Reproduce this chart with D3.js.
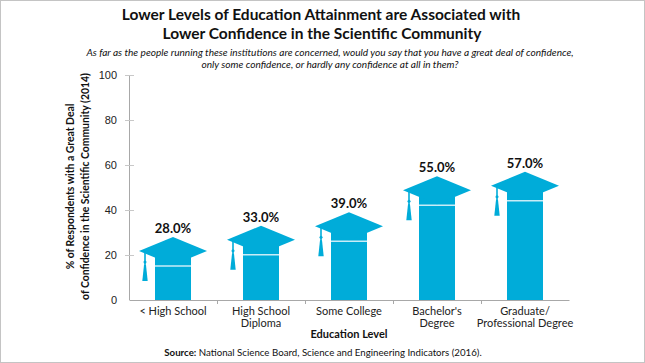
<!DOCTYPE html>
<html>
<head>
<meta charset="utf-8">
<script src="https://cdn.jsdelivr.net/npm/d3@7"></script>
<style>
  body { margin: 0; background: #fff; }
  svg { display: block; font-family: "Lato", "Roboto", sans-serif; }
  .tick text { fill: #222; font-size: 11px; }
</style>
</head>
<body>
<svg id="chart" width="645" height="363"></svg>
<script>
const categories = ["< High School", "High School Diploma", "Some College", "Bachelor's Degree", "Graduate/ Professional Degree"];
const categoryLines = [["< High School"], ["High School", "Diploma"], ["Some College"], ["Bachelor's", "Degree"], ["Graduate/", "Professional Degree"]];
const values = [28, 33, 39, 55, 57];
const yTicks = [0, 20, 40, 60, 80, 100];

const W = 645, H = 363;
const M = { top: 75, right: 76, bottom: 63, left: 129 };
const BLUE = "#00acd9";

const svg = d3.select("#chart");

svg.append("rect")
  .attr("x", 0.5).attr("y", 0.5)
  .attr("width", W - 1).attr("height", H - 1)
  .attr("fill", "#fff").attr("stroke", "#c4c4c4");

const x = d3.scaleBand()
  .domain(categories)
  .range([M.left, W - M.right])
  .padding(0);

const y = d3.scaleLinear()
  .domain([0, 100])
  .range([H - M.bottom, M.top]);

// titles
const title = svg.append("g").attr("font-weight", 700).attr("fill", "#111")
  .attr("text-anchor", "middle").attr("font-size", 15.5);
title.append("text").attr("x", 321).attr("y", 19.5)
  .text("Lower Levels of Education Attainment are Associated with");
title.append("text").attr("x", 322).attr("y", 38.5)
  .text("Lower Confidence in the Scientific Community");

const sub = svg.append("g").attr("font-style", "italic").attr("fill", "#111")
  .attr("text-anchor", "middle").attr("font-size", 10.1);
sub.append("text").attr("x", 330).attr("y", 56)
  .text("As far as the people running these institutions are concerned, would you say that you have a great deal of confidence,");
sub.append("text").attr("x", 330).attr("y", 67.5)
  .text("only some confidence, or hardly any confidence at all in them?");

// y axis
const yAxis = svg.append("g")
  .attr("transform", `translate(${M.left},0)`)
  .call(d3.axisLeft(y).tickValues(yTicks).tickSize(4).tickPadding(8));
yAxis.select(".domain").attr("stroke", "#a8a8a8").attr("d", `M0.5,${y(100)}V${y(0)}`);
yAxis.selectAll(".tick line").attr("stroke", "#c8c8c8").attr("x1", -4).attr("x2", 5);
yAxis.selectAll(".tick").filter(d => d === 0).select("line").remove();

// x axis
const xAxis = svg.append("g")
  .attr("transform", `translate(0,${y(0)})`)
  .call(d3.axisBottom(x).tickSize(0).tickPadding(11).tickFormat(""));
xAxis.select(".domain").attr("stroke", "#a8a8a8");
xAxis.selectAll(".tick text").remove();
xAxis.selectAll(".sep")
  .data(categories.slice(1))
  .join("line")
  .attr("class", "sep")
  .attr("x1", d => x(d) + 0.5).attr("x2", d => x(d) + 0.5)
  .attr("y1", 0).attr("y2", 4)
  .attr("stroke", "#a8a8a8");

const xLabels = svg.append("g").attr("font-size", 11).attr("fill", "#222").attr("text-anchor", "middle");
xLabels.selectAll("text")
  .data(categories)
  .join("text")
  .attr("x", d => x(d) + x.bandwidth() / 2)
  .attr("y", y(0) + 15)
  .each(function (d, i) {
    d3.select(this).selectAll("tspan")
      .data(categoryLines[i])
      .join("tspan")
      .attr("x", x(d) + x.bandwidth() / 2)
      .attr("dy", (l, j) => j === 0 ? 0 : 12)
      .text(l => l);
  });

svg.append("text")
  .attr("x", (M.left + W - M.right) / 2).attr("y", 338)
  .attr("text-anchor", "middle").attr("font-size", 11).attr("font-weight", 700).attr("fill", "#111")
  .text("Education Level");

const yTitle = svg.append("g")
  .attr("transform", `translate(0,${(y(0) + y(100)) / 2 - 1}) rotate(-90)`)
  .attr("text-anchor", "middle").attr("font-size", 10.4).attr("font-weight", 700).attr("fill", "#111");
yTitle.append("text").attr("x", 0).attr("y", 74)
  .text("% of Respondents with a Great Deal");
yTitle.append("text").attr("x", 0).attr("y", 89)
  .text("of Confidence in the Scientific Community (2014)");

// source
const src = svg.append("text")
  .attr("x", 323).attr("y", 356)
  .attr("text-anchor", "middle").attr("font-size", 9.7).attr("fill", "#111");
src.append("tspan").attr("font-weight", 700).text("Source: ");
src.append("tspan").text("National Science Board, Science and Engineering Indicators (2016).");

// bars drawn as graduation caps
const data = categories.map((c, i) => ({ cat: c, value: values[i] }));
const bw = 36, capW = 34, capH = 14;

const caps = svg.append("g").selectAll("g.cap")
  .data(data)
  .join("g")
  .attr("class", "cap")
  .attr("transform", d => `translate(${x(d.cat) + x.bandwidth() / 2},${y(d.value)})`);

caps.append("rect")
  .attr("x", -bw / 2)
  .attr("y", 20)
  .attr("width", bw)
  .attr("height", d => y(0) - y(d.value) - 20)
  .attr("fill", BLUE);

caps.append("line")
  .attr("x1", -bw / 2).attr("x2", bw / 2)
  .attr("y1", 29).attr("y2", 29)
  .attr("stroke", "#c9ecf7").attr("stroke-width", 1.5);

caps.append("path")
  .attr("d", `M0,0L${capW},${capH}L0,${capH * 2}L${-capW},${capH}Z`)
  .attr("fill", BLUE);

caps.append("line")
  .attr("x1", -28).attr("x2", -28)
  .attr("y1", capH).attr("y2", 30)
  .attr("stroke", BLUE).attr("stroke-width", 1.6);

caps.append("path")
  .attr("d", "M-29,28L-27,28L-25.3,44L-30.7,44Z")
  .attr("fill", BLUE);

caps.append("circle")
  .attr("cx", -28).attr("cy", 25).attr("r", 1.5)
  .attr("fill", BLUE);

caps.append("text")
  .attr("y", -4)
  .attr("text-anchor", "middle")
  .attr("font-size", 13).attr("font-weight", 700).attr("fill", "#111")
  .text(d => d3.format(".1f")(d.value) + "%");
</script>
</body>
</html>
